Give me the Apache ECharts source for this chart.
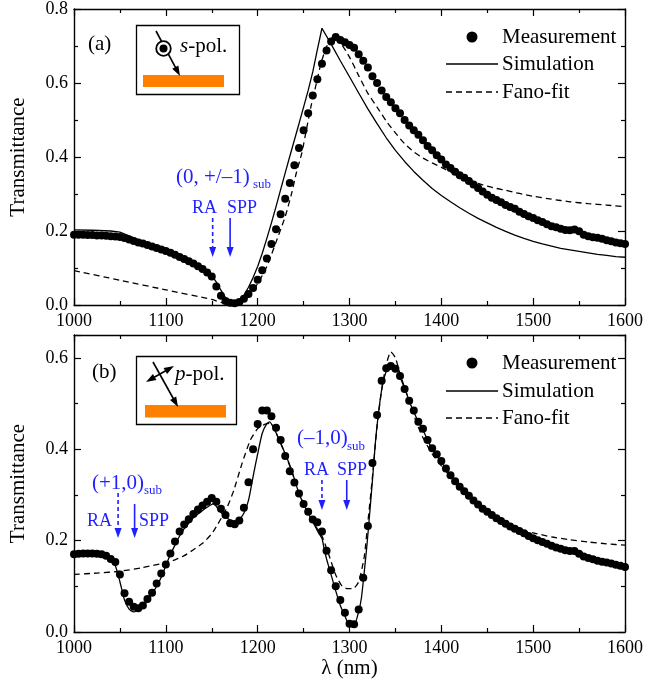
<!DOCTYPE html>
<html>
<head>
<meta charset="utf-8">
<script src="https://cdn.jsdelivr.net/npm/echarts@6/dist/echarts.min.js"></script>
<style>
  html, body { margin: 0; padding: 0; background: #fff; }
  #chart { width: 646px; height: 688px; }
</style>
</head>
<body>
<div id="chart"></div>
<script>
// ---------- data ----------
// measured wavelengths (nm)
const lamMeas = [1000,1005,1010,1015,1020,1025,1030,1035,1040,1045,1050,1055,1060,1065,1070,1075,1080,1085,1090,1095,
  1100,1105,1110,1115,1120,1125,1130,1135,1140,1145,1150,1155,1160,1165,1170,1175,1180,1185,1190,1195,
  1200,1205,1210,1215,1220,1225,1230,1235,1240,1245,1250,1255,1260,1265,1270,1275,1280,1285,1290,1295,
  1300,1305,1310,1315,1320,1325,1330,1335,1340,1345,1350,1355,1360,1365,1370,1375,1380,1385,1390,1395,
  1400,1405,1410,1415,1420,1425,1430,1435,1440,1445,1450,1455,1460,1465,1470,1475,1480,1485,1490,1495,
  1500,1505,1510,1515,1520,1525,1530,1535,1540,1545,1550,1555,1560,1565,1570,1575,1580,1585,1590,1595,1600];

// (a) s-polarisation
const measA = [0.190,0.190,0.190,0.189,0.189,0.188,0.188,0.187,0.186,0.185,0.184,0.181,0.177,0.173,0.169,0.166,0.162,0.158,0.154,0.150,
  0.146,0.141,0.136,0.130,0.124,0.118,0.112,0.105,0.097,0.088,0.077,0.050,0.025,0.011,0.006,0.005,0.008,0.017,0.030,0.046,
  0.068,0.094,0.126,0.165,0.205,0.245,0.287,0.330,0.378,0.424,0.472,0.518,0.566,0.610,0.652,0.688,0.712,0.724,0.716,0.710,
  0.703,0.695,0.678,0.660,0.642,0.618,0.600,0.580,0.562,0.548,0.532,0.518,0.500,0.485,0.472,0.460,0.445,0.430,0.418,0.405,
  0.393,0.380,0.370,0.360,0.351,0.344,0.335,0.326,0.316,0.307,0.298,0.290,0.284,0.278,0.270,0.265,0.260,0.252,0.246,0.240,
  0.235,0.229,0.224,0.218,0.213,0.210,0.206,0.203,0.202,0.204,0.199,0.190,0.186,0.183,0.182,0.179,0.175,0.172,0.169,0.167,0.165];

const lamSimA = [1000,1020,1040,1050,1060,1070,1080,1090,1100,1110,1120,1130,1140,1150,1155,1160,1165,1170,1175,1180,1185,1190,1195,
  1200,1205,1210,1215,1220,1225,1230,1235,1240,1245,1250,1255,1260,1265,1270,1280,1290,1300,1310,1320,1330,1340,1350,1360,
  1370,1380,1390,1400,1410,1420,1430,1440,1450,1460,1470,1480,1490,1500,1510,1520,1530,1540,1550,1560,1570,1580,1590,1600];
const simA = [0.203,0.202,0.200,0.197,0.187,0.177,0.167,0.157,0.148,0.138,0.127,0.115,0.100,0.080,0.062,0.040,0.020,0.008,0.004,0.010,0.026,0.048,0.074,
  0.104,0.140,0.180,0.222,0.266,0.312,0.357,0.402,0.446,0.490,0.535,0.580,0.630,0.690,0.748,0.705,0.660,0.617,0.573,0.530,0.490,0.452,0.418,0.388,
  0.361,0.337,0.315,0.296,0.279,0.263,0.248,0.234,0.222,0.210,0.199,0.189,0.180,0.172,0.165,0.159,0.153,0.149,0.145,0.141,0.137,0.134,0.131,0.129];

const lamFanoA = [1000,1050,1100,1150,1160,1170,1175,1180,1190,1200,1210,1220,1230,1237,1242,1248,1253,1258,1264,1269,1275,1280,1284,
  1290,1300,1310,1320,1330,1340,1350,1360,1370,1380,1390,1400,1410,1420,1430,1440,1450,1460,1470,1480,1490,1500,1520,1540,1560,1580,1600];
const fanoA = [0.093,0.067,0.041,0.015,0.007,0.002,0.000,0.003,0.025,0.058,0.104,0.170,0.239,0.302,0.356,0.410,0.473,0.536,0.600,0.654,0.698,0.720,0.726,
  0.710,0.670,0.620,0.572,0.535,0.497,0.465,0.436,0.414,0.397,0.384,0.372,0.360,0.349,0.338,0.329,0.321,0.315,0.310,0.304,0.299,0.294,0.286,0.279,0.274,0.270,0.266];

// (b) p-polarisation
const measB = [0.170,0.171,0.172,0.172,0.172,0.171,0.170,0.167,0.160,0.153,0.126,0.085,0.066,0.055,0.052,0.058,0.072,0.086,0.106,0.128,
  0.148,0.172,0.198,0.220,0.235,0.247,0.258,0.268,0.277,0.285,0.293,0.285,0.270,0.256,0.238,0.236,0.244,0.272,0.328,0.400,
  0.455,0.485,0.485,0.472,0.447,0.420,0.385,0.352,0.327,0.303,0.280,0.263,0.246,0.240,0.220,0.178,0.135,0.100,0.070,0.042,
  0.018,0.017,0.049,0.119,0.232,0.370,0.475,0.550,0.577,0.582,0.576,0.560,0.532,0.506,0.485,0.460,0.445,0.420,0.402,0.389,
  0.374,0.358,0.343,0.330,0.318,0.308,0.298,0.288,0.279,0.270,0.263,0.256,0.249,0.243,0.237,0.231,0.226,0.221,0.216,0.210,
  0.205,0.201,0.197,0.193,0.189,0.185,0.182,0.179,0.177,0.177,0.171,0.165,0.162,0.159,0.156,0.154,0.152,0.150,0.147,0.145,0.142];

const lamSimB = [1000,1020,1030,1040,1045,1050,1055,1060,1065,1070,1075,1080,1085,1090,1095,1100,1105,1110,1115,1120,1125,1130,1135,1140,1145,
  1152,1156,1160,1165,1170,1175,1180,1185,1190,1195,1200,1205,1210,1213,1216,1220,1225,1230,1235,1240,1245,1250,1255,1260,1265,1270,1272,
  1275,1280,1285,1290,1295,1300,1305,1310,1313,1316,1319,1322,1325,1328,1331,1335,1338,1342,1345,1348,1352,1356,1361,1365,1370,1375,1380,
  1390,1400,1420,1440,1460,1480,1500,1520,1540,1560,1580,1600];
const simB = [0.170,0.171,0.168,0.158,0.145,0.110,0.070,0.050,0.044,0.047,0.056,0.068,0.083,0.100,0.120,0.145,0.170,0.190,0.210,0.226,0.238,0.250,0.258,0.266,0.273,
  0.281,0.272,0.262,0.252,0.245,0.243,0.247,0.260,0.288,0.340,0.390,0.435,0.456,0.460,0.452,0.436,0.413,0.390,0.365,0.335,0.303,0.280,0.260,0.241,0.222,0.205,0.186,
  0.160,0.125,0.090,0.058,0.035,0.015,0.015,0.045,0.075,0.130,0.190,0.260,0.332,0.410,0.470,0.530,0.558,0.580,0.588,0.585,0.573,0.553,0.529,0.505,0.482,0.460,0.442,
  0.400,0.372,0.316,0.277,0.247,0.224,0.203,0.187,0.175,0.160,0.150,0.140];

const lamFanoB = [1000,1025,1050,1075,1100,1110,1120,1130,1140,1150,1156,1162,1167,1174,1183,1192,1200,1205,1210,1214,1220,1230,1240,1250,1260,1270,
  1277,1285,1292,1298,1304,1310,1316,1320,1325,1330,1335,1340,1345,1350,1355,1360,1365,1370,1375,1380,1390,1404,1422,1440,1460,1480,1500,1520,1540,1560,1580,1600];
const fanoB = [0.126,0.129,0.133,0.141,0.152,0.158,0.167,0.180,0.194,0.215,0.234,0.255,0.274,0.310,0.369,0.420,0.445,0.452,0.456,0.457,0.436,0.390,0.335,0.280,0.241,0.210,
  0.172,0.125,0.100,0.095,0.095,0.110,0.164,0.240,0.340,0.450,0.530,0.585,0.613,0.600,0.565,0.535,0.505,0.475,0.448,0.425,0.390,0.354,0.317,0.280,0.250,0.226,0.217,0.208,0.202,0.197,0.193,0.190];

// resonance positions marked with arrows (nm)
const resA = { RA: 1151, SPP: 1170 };
const resB1 = { RA: 1048, SPP: 1066 };
const resB2 = { RA: 1270, SPP: 1297 };

const xTicks = [1000, 1100, 1200, 1300, 1400, 1500, 1600];

// ---------- chart ----------
const FONT = 'Liberation Serif';
const BLUE = '#1f1fff';
const zip = (xs, ys) => xs.map((x, i) => [x, ys[i]]);

function xAxisDef(gridIndex, top) {
  return {
    type: 'value', gridIndex, position: top ? 'top' : 'bottom',
    min: xTicks[0], max: xTicks[xTicks.length - 1], interval: 100,
    axisLine: { onZero: false, lineStyle: { color: '#000', width: 1.4 } },
    axisTick: { inside: true, length: 7, lineStyle: { color: '#000', width: 1.2 } },
    minorTick: { show: true, splitNumber: 2, length: 4, lineStyle: { color: '#000', width: 1.2 } },
    splitLine: { show: false },
    axisLabel: { show: !top, margin: top ? 0 : 7, color: '#000', fontFamily: FONT, fontSize: 18,
      formatter: v => String(v) }
  };
}
function yAxisDef(gridIndex, right, max) {
  return {
    type: 'value', gridIndex, position: right ? 'right' : 'left',
    min: 0, max, interval: 0.2,
    name: right ? '' : 'Transmittance', nameLocation: 'middle', nameGap: 45,
    nameTextStyle: { color: '#000', fontFamily: FONT, fontSize: 21 },
    axisLine: { onZero: false, lineStyle: { color: '#000', width: 1.4 } },
    axisTick: { inside: true, length: 7, lineStyle: { color: '#000', width: 1.2 } },
    minorTick: { show: true, splitNumber: 2, length: 4, lineStyle: { color: '#000', width: 1.2 } },
    splitLine: { show: false },
    axisLabel: { show: !right, showMaxLabel: max === 0.8, margin: 6, color: '#000', fontFamily: FONT, fontSize: 18,
      formatter: v => v.toFixed(1) }
  };
}

function seriesSet(gi, meas, lamSim, sim, simSmooth, lamFano, fano) {
  return [
    { name: 'Measurement', type: 'scatter', xAxisIndex: gi * 2, yAxisIndex: gi * 2,
      data: zip(lamMeas, meas), symbol: 'circle', symbolSize: 8,
      itemStyle: { color: '#000', opacity: 1 }, z: 3, silent: true },
    { name: 'Simulation', type: 'line', xAxisIndex: gi * 2, yAxisIndex: gi * 2,
      data: zip(lamSim, sim), showSymbol: false, smooth: simSmooth,
      lineStyle: { color: '#000', width: 1.3 }, z: 4, silent: true },
    { name: 'Fano-fit', type: 'line', xAxisIndex: gi * 2, yAxisIndex: gi * 2,
      data: zip(lamFano, fano), showSymbol: false, smooth: 0.2,
      lineStyle: { color: '#000', width: 1.3, type: [6, 4] }, z: 4, silent: true }
  ];
}

const chart = echarts.init(document.getElementById('chart'), null, { renderer: 'canvas' });

const option = {
  backgroundColor: '#fff',
  animation: false,
  grid: [
    { left: 72, right: 18, top: 9, height: 296 },
    { left: 72, right: 18, top: 335, height: 297 }
  ],
  xAxis: [
    xAxisDef(0, false), xAxisDef(0, true),
    Object.assign(xAxisDef(1, false), {
      name: 'λ (nm)', nameLocation: 'middle', nameGap: 25,
      nameTextStyle: { color: '#000', fontFamily: FONT, fontSize: 21 }
    }),
    xAxisDef(1, true)
  ],
  yAxis: [
    yAxisDef(0, false, 0.8), yAxisDef(0, true, 0.8),
    yAxisDef(1, false, 0.65), yAxisDef(1, true, 0.65)
  ],
  series: [
    ...seriesSet(0, measA, lamSimA, simA, false, lamFanoA, fanoA),
    ...seriesSet(1, measB, lamSimB, simB, 0.2, lamFanoB, fanoB)
  ]
};
chart.setOption(option);

// ---------- annotations ----------
function txt(x, y, text, opts) {
  return {
    type: 'text', x, y, silent: true, z: 10,
    style: Object.assign({ text, fill: '#000', font: '21px "' + FONT + '"', verticalAlign: 'middle' }, opts || {})
  };
}
function arrowShape(x1, y1, x2, y2, color, dash, both) {
  const els = [];
  const dx = x2 - x1, dy = y2 - y1, L = Math.hypot(dx, dy);
  const ux = dx / L, uy = dy / L, hl = 10, hw = 3.5;
  const head = (tx, ty, sx, sy) => ({
    type: 'polygon', silent: true, z: 10,
    shape: { points: [[tx, ty],
      [tx - sx * hl - sy * hw, ty - sy * hl + sx * hw],
      [tx - sx * hl + sy * hw, ty - sy * hl - sx * hw]] },
    style: { fill: color }
  });
  els.push({
    type: 'line', silent: true, z: 10,
    shape: { x1: both ? x1 + ux * 6 : x1, y1: both ? y1 + uy * 6 : y1, x2: x2 - ux * 6, y2: y2 - uy * 6 },
    style: { stroke: color, lineWidth: 1.6, lineDash: dash ? [4, 3] : null }
  });
  els.push(head(x2, y2, ux, uy));
  if (both) els.push(head(x1, y1, -ux, -uy));
  return els;
}
function vArrow(gi, lam, y1, y2, dash) {
  const x = chart.convertToPixel({ xAxisIndex: gi * 2 }, lam);
  return arrowShape(x, y1, x, y2, BLUE, dash, false);
}

const blue18 = { fill: BLUE, font: '18px "' + FONT + '"' };
const blue21 = { fill: BLUE, font: '21px "' + FONT + '"' };
const blue13 = { fill: BLUE, font: '13px "' + FONT + '"' };
const richPol = {
  rich: {
    i: { fontFamily: FONT, fontSize: 21, fontStyle: 'italic', fill: '#000' },
    n: { fontFamily: FONT, fontSize: 21, fill: '#000' }
  }
};

const graphics = [
  // panel (a)
  txt(88, 44, '(a)'),
  { type: 'rect', silent: true, z: 9, shape: { x: 136.5, y: 25.5, width: 103, height: 69 },
    style: { fill: '#fff', stroke: '#000', lineWidth: 1.3 } },
  { type: 'rect', silent: true, z: 10, shape: { x: 143, y: 75, width: 81, height: 12 }, style: { fill: '#ff8000' } },
  ...arrowShape(156, 31, 180, 76, '#000', false, false),
  { type: 'circle', silent: true, z: 11, shape: { cx: 163.5, cy: 48.5, r: 7.3 },
    style: { fill: '#fff', stroke: '#000', lineWidth: 1.8 } },
  { type: 'circle', silent: true, z: 12, shape: { cx: 163.5, cy: 48.5, r: 4 }, style: { fill: '#000' } },
  { type: 'text', x: 180, y: 46, silent: true, z: 10,
    style: Object.assign({ text: '{i|s}{n|-pol.}', verticalAlign: 'middle' }, richPol) },
  txt(176, 177, '(0, +/–1)', blue21),
  txt(253, 185, 'sub', blue13),
  txt(192, 208, 'RA', blue18),
  txt(227, 208, 'SPP', blue18),
  ...vArrow(0, resA.RA, 218, 257, true),
  ...vArrow(0, resA.SPP, 218, 257, false),

  // legend (a)
  { type: 'circle', silent: true, z: 10, shape: { cx: 472, cy: 37, r: 5.5 }, style: { fill: '#000' } },
  { type: 'line', silent: true, z: 10, shape: { x1: 446, y1: 64, x2: 498, y2: 64 }, style: { stroke: '#000', lineWidth: 1.3 } },
  { type: 'line', silent: true, z: 10, shape: { x1: 446, y1: 92, x2: 498, y2: 92 }, style: { stroke: '#000', lineWidth: 1.3, lineDash: [6, 4] } },
  txt(502, 37, 'Measurement'),
  txt(502, 64, 'Simulation'),
  txt(502, 92, 'Fano-fit'),

  // panel (b)
  txt(92, 372, '(b)'),
  { type: 'rect', silent: true, z: 9, shape: { x: 136.5, y: 356.5, width: 100, height: 68 },
    style: { fill: '#fff', stroke: '#000', lineWidth: 1.3 } },
  { type: 'rect', silent: true, z: 10, shape: { x: 145, y: 405, width: 81, height: 12.5 }, style: { fill: '#ff8000' } },
  ...arrowShape(153, 362, 178, 407, '#000', false, false),
  ...arrowShape(146, 382, 174, 366, '#000', false, true),
  { type: 'text', x: 175, y: 374, silent: true, z: 10,
    style: Object.assign({ text: '{i|p}{n|-pol.}', verticalAlign: 'middle' }, richPol) },
  txt(92, 483, '(+1,0)', blue21),
  txt(144, 491, 'sub', blue13),
  txt(87, 521, 'RA', blue18),
  txt(139, 521, 'SPP', blue18),
  ...vArrow(1, resB1.RA, 493, 538, true),
  ...vArrow(1, resB1.SPP, 504, 538, false),
  txt(297, 438, '(–1,0)', blue21),
  txt(347, 447, 'sub', blue13),
  txt(304, 470, 'RA', blue18),
  txt(337, 470, 'SPP', blue18),
  ...vArrow(1, resB2.RA, 480, 510, true),
  ...vArrow(1, resB2.SPP, 480, 510, false),

  // legend (b)
  { type: 'circle', silent: true, z: 10, shape: { cx: 472, cy: 363, r: 5.5 }, style: { fill: '#000' } },
  { type: 'line', silent: true, z: 10, shape: { x1: 446, y1: 391, x2: 498, y2: 391 }, style: { stroke: '#000', lineWidth: 1.3 } },
  { type: 'line', silent: true, z: 10, shape: { x1: 446, y1: 418, x2: 498, y2: 418 }, style: { stroke: '#000', lineWidth: 1.3, lineDash: [6, 4] } },
  txt(502, 363, 'Measurement'),
  txt(502, 391, 'Simulation'),
  txt(502, 418, 'Fano-fit')
];

chart.setOption({ graphic: graphics });
</script>
</body>
</html>
